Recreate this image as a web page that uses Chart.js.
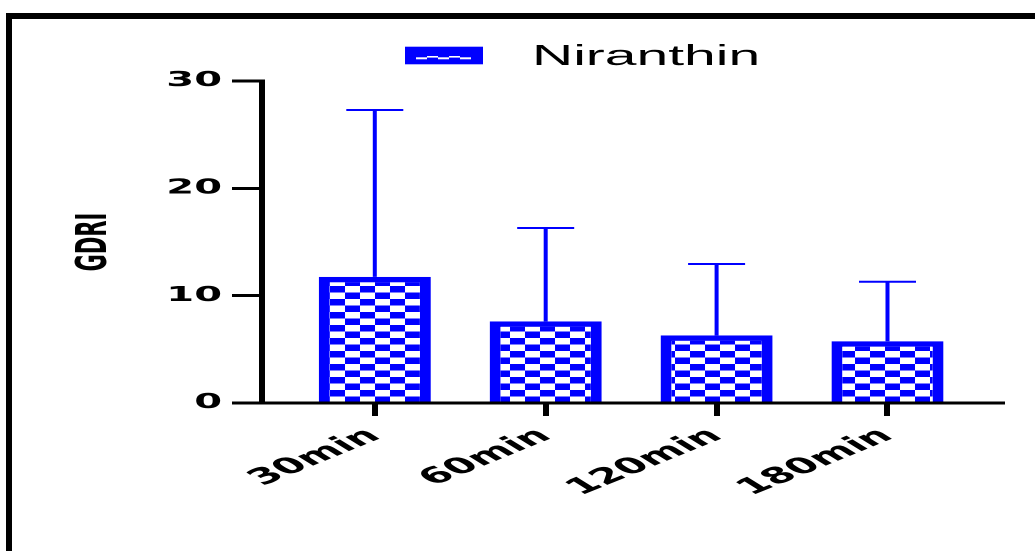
<!DOCTYPE html>
<html>
<head>
<meta charset="utf-8">
<title>GDRI - Niranthin</title>
<script src="https://cdn.jsdelivr.net/npm/chart.js@4/dist/chart.umd.min.js"></script>
<style>
  html, body { margin: 0; padding: 0; background: #fff; overflow: hidden; }
  body { width: 1035px; height: 551px; position: relative; }
  #frame {
    position: absolute; left: 6px; top: 13px; width: 1200px; height: 700px;
    border-top: 6px solid #000; border-left: 6px solid #000;
  }
  /* the figure is drawn at half width and stretched, like the original export */
  #wrap {
    position: absolute; left: 0; top: 0; width: 518px; height: 551px;
    transform: scaleX(2); transform-origin: 0 0;
  }
  #gdri { width: 518px; height: 551px; }
</style>
</head>
<body>
<div id="frame"></div>
<div id="wrap"><canvas id="gdri" width="518" height="551"></canvas></div>
<script>
// values
const categories = ['30min', '60min', '120min', '180min'];
const meanValues = [11.75, 7.6, 6.3, 5.75];
const sdValues = [15.55, 8.7, 6.65, 5.55];
const yTicks = [0, 10, 20, 30];
const seriesName = 'Niranthin';

const BLUE = '#0000ff';

// checkerboard fill like the Prism pattern
function makeChecker() {
  const c = document.createElement('canvas');
  c.width = 30;
  c.height = 26;
  const g = c.getContext('2d');
  g.fillStyle = '#ffffff';
  g.fillRect(0, 0, 30, 26);
  g.fillStyle = BLUE;
  g.fillRect(0, 0, 15, 13);
  g.fillRect(15, 13, 15, 13);
  const p = g.createPattern(c, 'repeat');
  p.setTransform(new DOMMatrix().scale(0.5));
  return p;
}

// upper error bars (SD)
const errorBars = {
  id: 'errorBars',
  afterDatasetsDraw(chart) {
    const ctx = chart.ctx;
    const y = chart.scales.y;
    const meta = chart.getDatasetMeta(0);
    ctx.save();
    ctx.strokeStyle = BLUE;
    ctx.lineWidth = 2;
    meta.data.forEach((bar, i) => {
      const top = y.getPixelForValue(meanValues[i] + sdValues[i]);
      const base = y.getPixelForValue(meanValues[i]);
      ctx.beginPath();
      ctx.moveTo(bar.x, base);
      ctx.lineTo(bar.x, top);
      ctx.moveTo(bar.x - 14.25, top);
      ctx.lineTo(bar.x + 14.25, top);
      ctx.stroke();
    });
    ctx.restore();
  }
};

// legend drawn by hand so the swatch looks like the original
const prismLegend = {
  id: 'prismLegend',
  afterDraw(chart) {
    const ctx = chart.ctx;
    ctx.save();
    ctx.fillStyle = BLUE;
    ctx.fillRect(202.5, 46.7, 39, 17.6);
    ctx.fillStyle = '#ffffff';
    const segs = [208, 213.5, 219, 224.5, 230];
    segs.forEach((sx, i) => {
      ctx.fillRect(sx, i % 2 ? 56 : 57.3, 5.5, i % 2 ? 1.6 : 2);
    });
    ctx.fillStyle = '#000';
    ctx.font = '28.5px "Liberation Sans", Arial, sans-serif';
    ctx.textBaseline = 'alphabetic';
    ctx.textAlign = 'left';
    ctx.fillText(seriesName, 266, 65);
    ctx.restore();
  }
};

const ctx = document.getElementById('gdri').getContext('2d');
new Chart(ctx, {
  type: 'bar',
  data: {
    datasets: [{
      label: seriesName,
      data: meanValues.map((v, i) => ({ x: i, y: v })),
      backgroundColor: makeChecker(),
      borderColor: BLUE,
      borderWidth: { top: 5.5, left: 5.5, right: 5.5, bottom: 0 },
      borderSkipped: false,
      barPercentage: 0.656,
      categoryPercentage: 1
    }]
  },
  options: {
    responsive: false,
    devicePixelRatio: 2,
    animation: false,
    layout: { padding: { left: 0, right: 17, top: 81, bottom: 0 } },
    plugins: {
      legend: { display: false },
      tooltip: { enabled: false },
      title: { display: false }
    },
    scales: {
      x: {
        type: 'linear',
        offset: false,
        min: -0.66,
        max: 3.67,
        afterBuildTicks: (axis) => {
          axis.ticks = categories.map((c, i) => ({ value: i }));
        },
        afterFit: (axis) => { axis.height = 148; },
        ticks: {
          autoSkip: false,
          maxRotation: 39,
          minRotation: 39,
          padding: 7,
          color: '#000',
          font: { family: '"DejaVu Sans", sans-serif', size: 22, weight: 'bold' },
          callback: (v) => categories[v]
        },
        grid: {
          offset: false,
          drawOnChartArea: false,
          color: '#000',
          lineWidth: 3,
          tickLength: 13
        },
        border: { display: true, color: '#000', width: 3 }
      },
      y: {
        min: 0,
        max: 30,
        afterBuildTicks: (axis) => {
          axis.ticks = yTicks.map(v => ({ value: v }));
        },
        afterFit: (axis) => { axis.width = 131; },
        ticks: {
          padding: 5,
          color: '#000',
          font: { family: '"DejaVu Sans", sans-serif', size: 20, weight: 'bold' }
        },
        grid: {
          drawOnChartArea: false,
          color: '#000',
          lineWidth: 3,
          tickLength: 15
        },
        border: { display: true, color: '#000', width: 3 },
        title: {
          display: true,
          text: 'GDRI',
          color: '#000',
          padding: { top: 35, bottom: 0 },
          font: { family: '"DejaVu Sans", sans-serif', size: 21, weight: 'bold' }
        }
      }
    }
  },
  plugins: [errorBars, prismLegend]
});
</script>
</body>
</html>
